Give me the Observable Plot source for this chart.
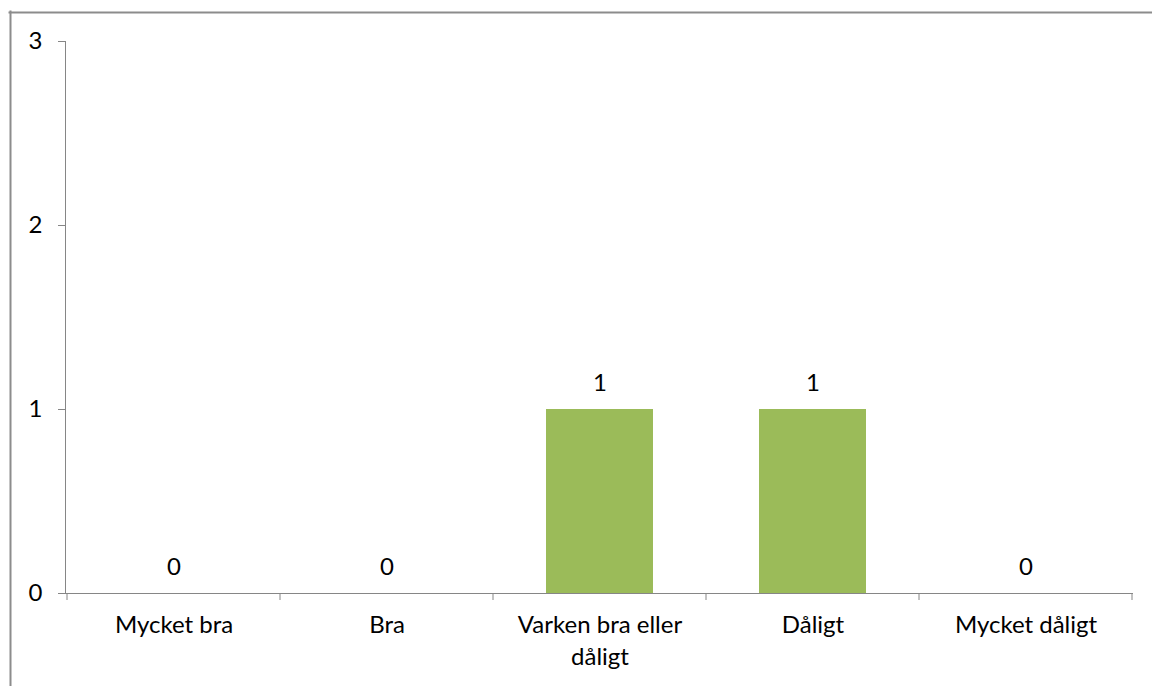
<!DOCTYPE html>
<html>
<head>
<meta charset="utf-8">
<script src="https://cdn.jsdelivr.net/npm/d3@7"></script>
<script src="https://cdn.jsdelivr.net/npm/@observablehq/plot@0.6"></script>
<style>
  html, body { margin: 0; padding: 0; background: #fff; overflow: hidden; }
  #chart svg { display: block; }
</style>
</head>
<body>
<div id="chart"></div>
<script>
const categories = ["Mycket bra", "Bra", "Varken bra eller\ndåligt", "Dåligt", "Mycket dåligt"];
const values = [0, 0, 1, 1, 0];
const yTicks = [0, 1, 2, 3];

const data = categories.map((c, i) => ({category: c, value: values[i]}));
const axisColor = "#868686";
const fs = 24;

function boundaryTicks(index, scales) {
  const x = scales.x;
  const step = x(categories[1]) - x(categories[0]);
  const bw = x.bandwidth ? x.bandwidth() : step / 2;
  const gap = (step - bw) / 2;
  const bounds = categories.map(c => x(c) - gap);
  bounds.push(x(categories[categories.length - 1]) + bw + gap);
  const y0 = scales.y(0);
  const g = d3.create("svg:g");
  g.selectAll("line").data(bounds).join("line")
    .attr("x1", d => d).attr("x2", d => d)
    .attr("y1", y0).attr("y2", y0 + 7)
    .attr("stroke", axisColor);
  return g.node();
}

const chart = Plot.plot({
  width: 1152,
  height: 686,
  marginLeft: 65,
  marginRight: 19,
  marginTop: 41,
  marginBottom: 93,
  style: {fontFamily: "Lato, 'Open Sans', sans-serif", fontSize: fs + "px", color: "#000", background: "#fff", overflow: "hidden"},
  x: {domain: categories, paddingInner: 0.5, paddingOuter: 0.25, axis: null, label: null},
  y: {domain: [0, 3], axis: null, label: null},
  marks: [
    Plot.frame({anchor: "left", stroke: "#8c8c8c", strokeWidth: 2, insetLeft: -55, insetTop: -30, insetBottom: -120}),
    Plot.frame({anchor: "top", stroke: "#8c8c8c", strokeWidth: 2, insetLeft: -56, insetTop: -29, insetRight: -40}),
    Plot.barY(data, {x: "category", y: "value", fill: "#9BBB59"}),
    Plot.frame({anchor: "left", stroke: axisColor}),
    Plot.ruleY([0], {stroke: axisColor}),
    Plot.axisY({ticks: yTicks, tickSize: 7, tickPadding: 16, stroke: axisColor, tickFormat: d => String(d), fontSize: fs, label: null}),
    Plot.axisX({tickSize: 0, tickPadding: 17, fontSize: fs, lineHeight: 1.33, label: null}),
    boundaryTicks,
    Plot.text(data, {x: "category", y: "value", text: d => String(d.value), dy: -26, fontSize: fs, fill: "#000"})
  ]
});

document.getElementById("chart").appendChild(chart);
</script>
</body>
</html>
